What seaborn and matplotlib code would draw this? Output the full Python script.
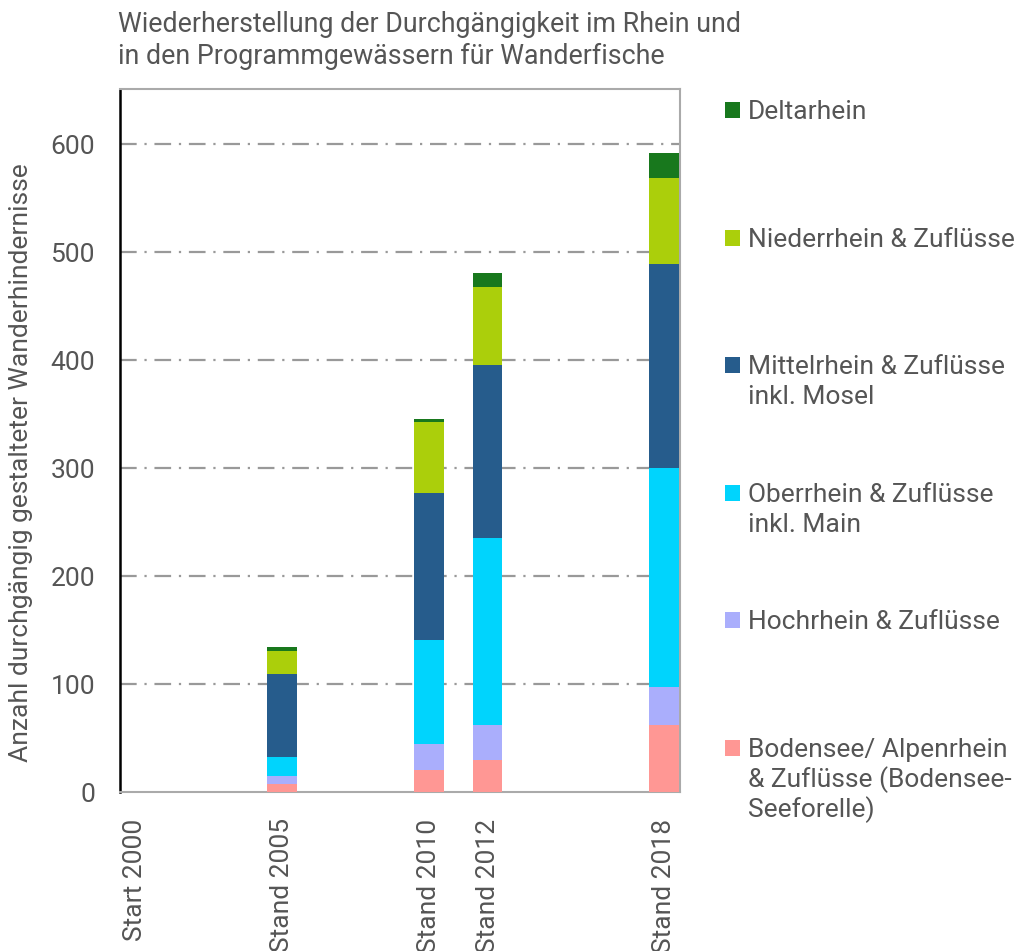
import pandas as pd
import seaborn as sns
import matplotlib.pyplot as plt
from matplotlib.patches import Rectangle

# data
years = [2000, 2005, 2010, 2012, 2018]
tick_labels = ["Start 2000", "Stand 2005", "Stand 2010", "Stand 2012", "Stand 2018"]

bodensee = [0, 7, 20, 30, 62]
hochrhein = [0, 8, 24, 32, 35]
oberrhein = [0, 17, 97, 173, 203]
mittelrhein = [0, 77, 136, 160, 189]
niederrhein = [0, 22, 66, 73, 80]
deltarhein = [0, 3, 2, 13, 23]

series_names = [
    "Bodensee/ Alpenrhein\n& Zuflüsse (Bodensee-\nSeeforelle)",
    "Hochrhein & Zuflüsse",
    "Oberrhein & Zuflüsse\ninkl. Main",
    "Mittelrhein & Zuflüsse\ninkl. Mosel",
    "Niederrhein & Zuflüsse",
    "Deltarhein",
]
series_values = [bodensee, hochrhein, oberrhein, mittelrhein, niederrhein, deltarhein]
colors = ["#ff9794", "#aaaefc", "#00d4fd", "#265c8c", "#abcf0b", "#18781d"]

TEXT = "#555555"
FS = 19

sns.set_style("white")
plt.rcParams['font.family'] = ['Roboto', 'DejaVu Sans']

df = pd.DataFrame({"year": years})
for name, vals in zip(series_names, series_values):
    df[name] = vals
cum = df[series_names].cumsum(axis=1)

fig = plt.figure(figsize=(10.18, 9.51), dpi=100)
ax = fig.add_axes([120 / 1018, 1 - 792 / 951, 560 / 1018, 703 / 951])

# stacked bars: draw cumulative totals from the top series down
for name, color in reversed(list(zip(series_names, colors))):
    sns.barplot(x=df["year"], y=cum[name], native_scale=True, width=0.5,
                color=color, saturation=1, errorbar=None, linewidth=0, ax=ax, zorder=3)

ax.set_xlim(1999.48, 2018.55)
ax.set_ylim(0, 651)
ax.set_yticks([0, 100, 200, 300, 400, 500, 600])
ax.set_xticks(years)
ax.set_xticklabels(tick_labels, rotation=90, va="top", ha="center")
ax.tick_params(axis="x", length=0, pad=19, labelsize=FS, labelcolor=TEXT)
ax.tick_params(axis="y", direction="in", length=6, width=1.5, color="black",
               pad=18, labelsize=FS, labelcolor=TEXT)
for y in [100, 200, 300, 400, 500, 600]:
    ax.axhline(y, color="#999999", lw=1.6, ls=(0, (7.5, 3.5, 1, 3.5)), zorder=1)

ax.set_xlabel("")
ax.set_ylabel("Anzahl durchgängig gestalteter Wanderhindernisse", fontsize=FS, color=TEXT)
ax.yaxis.set_label_coords(-0.155, 0.469)

for side in ["top", "right", "bottom"]:
    ax.spines[side].set_color("#aaaaaa")
    ax.spines[side].set_linewidth(1.5)
ax.spines["left"].set_color("black")
ax.spines["left"].set_linewidth(1.8)

fig.text(118 / 1018, 1 - 11 / 951,
         "Wiederherstellung der Durchgängigkeit im Rhein und\nin den Programmgewässern für Wanderfische",
         ha="left", va="top", fontsize=19.3, color=TEXT, linespacing=1.24)

# legend, top entry first, evenly spaced first lines
for i, (name, color) in enumerate(reversed(list(zip(series_names, colors)))):
    base = 119 + i * 127.6
    fig.patches.append(Rectangle((725 / 1018, 1 - (base - 1) / 951), 15 / 1018, 16 / 951,
                                 transform=fig.transFigure, facecolor=color, edgecolor="none"))
    first, *rest = name.split("\n")
    fig.text(748 / 1018, 1 - base / 951, first, ha="left", va="baseline",
             fontsize=FS, color=TEXT)
    for k, line in enumerate(rest, start=1):
        fig.text(748 / 1018, 1 - (base + 30 * k) / 951, line, ha="left", va="baseline",
                 fontsize=FS, color=TEXT)

fig.savefig("out.png", dpi=100)
